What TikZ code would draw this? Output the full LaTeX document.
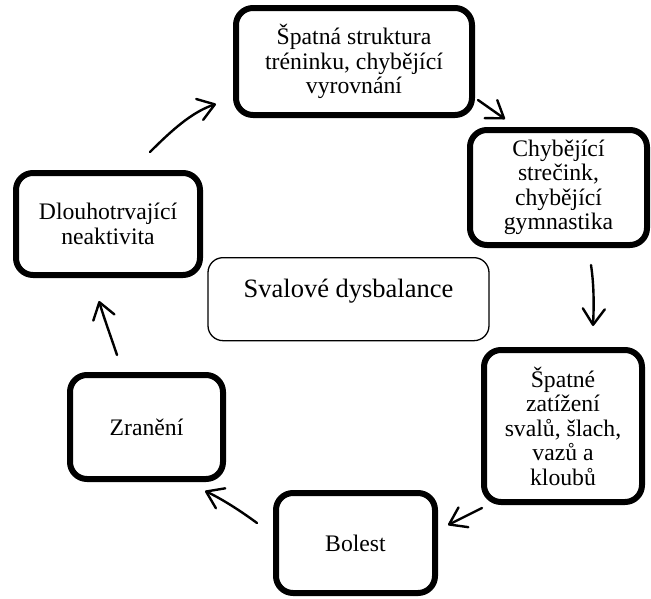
\documentclass[tikz,border=0pt]{standalone}
\usepackage{fontspec}
\setmainfont{Liberation Serif}
\usetikzlibrary{arrows.meta,shadows}
\tikzset{
  cyclebox/.style={draw=black, line width=6pt, rounded corners=17pt, fill=white,
    align=center, inner sep=0pt,
    font=\fontsize{23.7pt}{24.5pt}\selectfont,
    drop shadow={opacity=0.25, shadow xshift=1.5pt, shadow yshift=-2pt}},
  centerbox/.style={draw=black, line width=1.3pt, rounded corners=15pt, fill=white,
    inner sep=0pt, font=\fontsize{26.5pt}{28pt}\selectfont},
  cyclearrow/.style={line width=2.4pt, line cap=round,
    -{Straight Barb[length=16pt, width=22pt, line cap=round, line join=round]}}
}
\begin{document}
\begin{tikzpicture}[x=1pt, y=-1pt]
\useasboundingbox (0,0) rectangle (651,598);
% boxes
\node[cyclebox, minimum width=236pt, minimum height=107pt] (b1) at (354,61.5)
  {Špatná struktura\\tréninku, chybějící\\vyrovnání};
\node[cyclebox, minimum width=177pt, minimum height=115pt] (b2) at (558.5,187.5)
  {Chybějící\\strečink,\\chybějící\\gymnastika};
\node[cyclebox, minimum width=158pt, minimum height=152pt] (b3) at (563,426)
  {Špatné\\zatížení\\svalů, šlach,\\vazů a\\kloubů};
\node[cyclebox, minimum width=159pt, minimum height=100pt] (b4) at (355.5,543)
  {Bolest};
\node[cyclebox, minimum width=153pt, minimum height=104pt] (b5) at (146.5,427)
  {Zranění};
\node[cyclebox, minimum width=184pt, minimum height=102pt] (b6) at (108,224)
  {Dlouhotrvající\\neaktivita};
\node[centerbox, minimum width=281pt, text height=40pt, text depth=43pt,
  anchor=north] (c) at (348.5,257) {Svalové dysbalance};
% arrow end points
\coordinate (a1s) at (150,152); \coordinate (a1e) at (216,104);
\coordinate (a2s) at (478,100); \coordinate (a2e) at (505,119);
\coordinate (a3s) at (591,265); \coordinate (a3e) at (593,326);
\coordinate (a4s) at (482,508); \coordinate (a4e) at (448,525);
\coordinate (a5s) at (257,523); \coordinate (a5e) at (205,491);
\coordinate (a6s) at (117,355); \coordinate (a6e) at (99,301);
% arrows
\draw[cyclearrow] (a1s) .. controls (172,130) and (192,112) .. (a1e);
\draw[cyclearrow] (a2s) -- (a2e);
\draw[cyclearrow] (a3s) .. controls (594,285) and (594,305) .. (a3e);
\draw[cyclearrow] (a4s) -- (a4e);
\draw[cyclearrow] (a5s) .. controls (238,509) and (220,498) .. (a5e);
\draw[cyclearrow] (a6s) .. controls (111,337) and (104,318) .. (a6e);
\end{tikzpicture}
\end{document}
